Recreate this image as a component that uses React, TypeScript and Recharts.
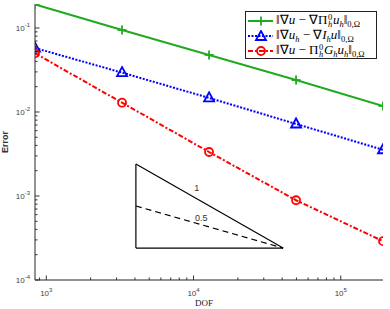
import React from "react";
import { LineChart, Line, XAxis, YAxis, Legend, ReferenceLine, ReferenceDot } from "recharts";

// convergence data
const dof = [838, 3270, 12750, 49700, 193600];
const errGradPi = [0.191, 0.0946, 0.0478, 0.024, 0.0118];
const errGradI = [0.0578, 0.0294, 0.0147, 0.0072, 0.00355];
const errPiG = [0.05, 0.0129, 0.00334, 0.00089, 0.00029];

const seriesNames = [
  "‖∇u − ∇Π_h^0 u_h‖_{0,Ω}",
  "‖∇u_h − ∇I_h u‖_{0,Ω}",
  "‖∇u − Π_h^0 G_h u_h‖_{0,Ω}",
];

const xDomain = [838, 193600];
const yDomain = [1e-4, 0.193];

// slope triangle, in data coordinates
const triX = [4060, 40600];
const triY = [2.4e-4, 2.4e-3];
const triHalfY = 7.6e-4;
const slopeLabels = [
  { x: 10500, y: 1.25e-3, text: "1" },
  { x: 11300, y: 5.5e-4, text: "0.5" },
];

const GREEN = "#1faa1f";
const BLUE = "#0000ff";
const RED = "#ff0000";
const AXIS = "#262626";

const data = dof.map((d, i) => ({ dof: d, a: errGradPi[i], b: errGradI[i], c: errPiG[i] }));

function logTicks(lo: number, hi: number) {
  const out: number[] = [];
  for (let e = Math.floor(Math.log10(lo)); e <= Math.ceil(Math.log10(hi)); e++) {
    for (let m = 1; m <= 9; m++) {
      const v = m * Math.pow(10, e);
      if (v >= lo * 0.9999 && v <= hi * 1.0001) out.push(v);
    }
  }
  return out;
}
const isMajor = (v: number) => Math.abs(Math.log10(v) - Math.round(Math.log10(v))) < 1e-9;

const xTicks = logTicks(xDomain[0], xDomain[1]);
const yTicks = logTicks(yDomain[0], yDomain[1]);

function LogTick(props: any) {
  const { payload, side, showLabel } = props;
  const x = Number(props.x);
  const y = Number(props.y);
  const v = payload.value;
  const major = isMajor(v);
  const len = major ? 4.5 : 2.5;
  const exp = String(Math.round(Math.log10(v)));
  let d;
  if (side === "bottom") d = `M${x},${y}V${y - len}`;
  else if (side === "top") d = `M${x},${y}V${y + len}`;
  else if (side === "left") d = `M${x},${y}H${x + len}`;
  else d = `M${x},${y}H${x - len}`;
  let label = null;
  if (showLabel && major) {
    const style = { fontFamily: "Liberation Sans, Arial, sans-serif", fill: "#404040" };
    if (side === "bottom") {
      label = (
        <text x={x} y={y + 16} textAnchor="middle" fontSize={8} style={style}>
          <tspan>10</tspan>
          <tspan dy={-4} fontSize={6}>{exp}</tspan>
        </text>
      );
    } else {
      label = (
        <text x={x - 5} y={y + 3} textAnchor="end" fontSize={8} style={style}>
          <tspan>10</tspan>
          <tspan dy={-4} fontSize={6}>{exp}</tspan>
        </text>
      );
    }
  }
  return (
    <g>
      <path d={d} stroke="#333" strokeWidth={1} fill="none" />
      {label}
    </g>
  );
}

function PlusDot({ cx, cy }: any) {
  return (
    <g stroke={GREEN} strokeWidth={1.8}>
      <line x1={cx - 4.5} y1={cy} x2={cx + 4.5} y2={cy} />
      <line x1={cx} y1={cy - 4.5} x2={cx} y2={cy + 4.5} />
    </g>
  );
}
function TriDot({ cx, cy }: any) {
  return (
    <polygon
      points={`${cx},${cy - 5.5} ${cx - 5},${cy + 3.5} ${cx + 5},${cy + 3.5}`}
      fill="none"
      stroke={BLUE}
      strokeWidth={1.8}
    />
  );
}
function CircleDot({ cx, cy }: any) {
  return <circle cx={cx} cy={cy} r={4} fill="none" stroke={RED} strokeWidth={1.8} />;
}

// math text pieces for the legend
const Sub = ({ t, it }: { t: string; it?: boolean }) => (
  <span style={{ fontSize: 8.5, position: "relative", top: 2.5, fontStyle: it ? "italic" : "normal" }}>{t}</span>
);
const SupSub = ({ sup, sb }: { sup: string; sb: string }) => (
  <span style={{ display: "inline-block", position: "relative", width: 5.5, height: 0, fontSize: 8.5 }}>
    <span style={{ position: "absolute", left: 0.5, top: -12, lineHeight: "10px" }}>{sup}</span>
    <span style={{ position: "absolute", left: 0.5, top: -5, lineHeight: "10px", fontStyle: "italic" }}>{sb}</span>
  </span>
);
const I = ({ t }: { t: string }) => <i>{t}</i>;

const formulas = [
  <>‖∇<I t="u" /> − ∇Π<SupSub sup="0" sb="h" /><I t="u" /><Sub t="h" it />‖<Sub t="0,Ω" /></>,
  <>‖∇<I t="u" /><Sub t="h" it /> − ∇<I t="I" /><Sub t="h" it /><I t="u" />‖<Sub t="0,Ω" /></>,
  <>‖∇<I t="u" /> − Π<SupSub sup="0" sb="h" /><I t="G" /><Sub t="h" it /><I t="u" /><Sub t="h" it />‖<Sub t="0,Ω" /></>,
];

const legendStyles = [
  { color: GREEN, dash: undefined, marker: "plus" },
  { color: BLUE, dash: "2 1.5", marker: "tri" },
  { color: RED, dash: "5 2 2 2", marker: "circle" },
];

function LegendBox() {
  return (
    <div
      style={{
        boxSizing: "border-box",
        width: 132,
        height: 48,
        border: "1px solid #222",
        background: "#fff",
        padding: "1px 0 0 0",
        fontFamily: "Liberation Serif, Times New Roman, serif",
        fontSize: 13,
        color: "#000",
        overflow: "hidden",
      }}
    >
      {legendStyles.map((s, i) => (
        <div key={i} style={{ display: "flex", alignItems: "center", height: 15, lineHeight: "15px" }}>
          <svg width={30} height={12} style={{ flex: "none" }}>
            <line x1={2} y1={6} x2={27} y2={6} stroke={s.color} strokeWidth={2} strokeDasharray={s.dash} />
            {s.marker === "plus" && <PlusDot cx={15} cy={6} />}
            {s.marker === "tri" && <TriDot cx={15} cy={6.5} />}
            {s.marker === "circle" && <CircleDot cx={15} cy={6} />}
          </svg>
          <span style={{ whiteSpace: "nowrap" }}>{formulas[i]}</span>
        </div>
      ))}
    </div>
  );
}

export default function App() {
  return (
    <div style={{ position: "absolute", left: 0, top: 0, width: 390, height: 309, background: "#fff" }}>
      <LineChart width={390} height={309} data={data} margin={{ top: 4, right: 7, bottom: 0, left: 0 }}>
        <XAxis
          dataKey="dof"
          type="number"
          scale="log"
          domain={xDomain}
          allowDataOverflow
          ticks={xTicks}
          interval={0}
          height={29}
          tickSize={0}
          tickMargin={0}
          tickLine={false}
          axisLine={{ stroke: AXIS }}
          tick={(p: any) => <LogTick {...p} side="bottom" showLabel />}
          label={(p: any) => {
            const vb = p.viewBox;
            return (
              <text
                x={vb.x + vb.width / 2 - 5}
                y={vb.y + vb.height - 3}
                textAnchor="middle"
                fontSize={9}
                style={{ fontFamily: "Liberation Serif, serif", fill: "#222" }}
              >
                DOF
              </text>
            );
          }}
        />
        <XAxis
          xAxisId="top"
          orientation="top"
          dataKey="dof"
          type="number"
          scale="log"
          domain={xDomain}
          allowDataOverflow
          ticks={xTicks}
          interval={0}
          height={0}
          tickSize={0}
          tickMargin={0}
          tickLine={false}
          axisLine={{ stroke: AXIS }}
          tick={(p: any) => <LogTick {...p} side="top" />}
        />
        <YAxis
          type="number"
          scale="log"
          domain={yDomain}
          allowDataOverflow
          ticks={yTicks}
          interval={0}
          width={35}
          tickSize={0}
          tickMargin={0}
          tickLine={false}
          axisLine={{ stroke: AXIS }}
          tick={(p: any) => <LogTick {...p} side="left" showLabel />}
          label={(p: any) => {
            const vb = p.viewBox;
            const cy = vb.y + vb.height / 2;
            return (
              <text
                x={8}
                y={cy}
                transform={`rotate(-90 8 ${cy})`}
                textAnchor="middle"
                fontSize={9}
                fontWeight="bold"
                style={{ fontFamily: "Liberation Sans, Arial, sans-serif", fill: "#333" }}
              >
                Error
              </text>
            );
          }}
        />
        <YAxis
          yAxisId="right"
          orientation="right"
          type="number"
          scale="log"
          domain={yDomain}
          allowDataOverflow
          ticks={yTicks}
          interval={0}
          width={0}
          tickSize={0}
          tickMargin={0}
          tickLine={false}
          axisLine={{ stroke: AXIS }}
          tick={(p: any) => <LogTick {...p} side="right" />}
        />

        <ReferenceLine segment={[{ x: triX[0], y: triY[0] }, { x: triX[1], y: triY[0] }]} stroke="#000" strokeWidth={1.2} />
        <ReferenceLine segment={[{ x: triX[0], y: triY[0] }, { x: triX[0], y: triY[1] }]} stroke="#000" strokeWidth={1.2} />
        <ReferenceLine segment={[{ x: triX[0], y: triY[1] }, { x: triX[1], y: triY[0] }]} stroke="#000" strokeWidth={1.2} />
        <ReferenceLine
          segment={[{ x: triX[0], y: triHalfY }, { x: triX[1], y: triY[0] }]}
          stroke="#000"
          strokeWidth={1.2}
          strokeDasharray="6 4"
        />
        {slopeLabels.map((l) => (
          <ReferenceDot
            key={l.text}
            x={l.x}
            y={l.y}
            r={0}
            shape={(p: any) => (
              <text
                x={p.cx}
                y={p.cy}
                textAnchor="middle"
                dominantBaseline="central"
                fontSize={9}
                style={{ fontFamily: "Liberation Sans, Arial, sans-serif", fill: "#333" }}
              >
                {l.text}
              </text>
            )}
          />
        ))}

        <Line
          dataKey="a"
          name={seriesNames[0]}
          stroke={GREEN}
          strokeWidth={2}
          dot={(p: any) => <PlusDot key={p.index} {...p} />}
          activeDot={false}
          isAnimationActive={false}
        />
        <Line
          dataKey="b"
          name={seriesNames[1]}
          stroke={BLUE}
          strokeWidth={2}
          strokeDasharray="2 1.5"
          dot={(p: any) => <TriDot key={p.index} {...p} />}
          activeDot={false}
          isAnimationActive={false}
        />
        <Line
          dataKey="c"
          name={seriesNames[2]}
          stroke={RED}
          strokeWidth={2}
          strokeDasharray="5 2 2 2"
          dot={(p: any) => <CircleDot key={p.index} {...p} />}
          activeDot={false}
          isAnimationActive={false}
        />
        <Legend
          layout="vertical"
          align="center"
          verticalAlign="middle"
          wrapperStyle={{ left: 245, top: 11, width: 132 }}
          content={() => <LegendBox />}
        />
      </LineChart>
    </div>
  );
}
